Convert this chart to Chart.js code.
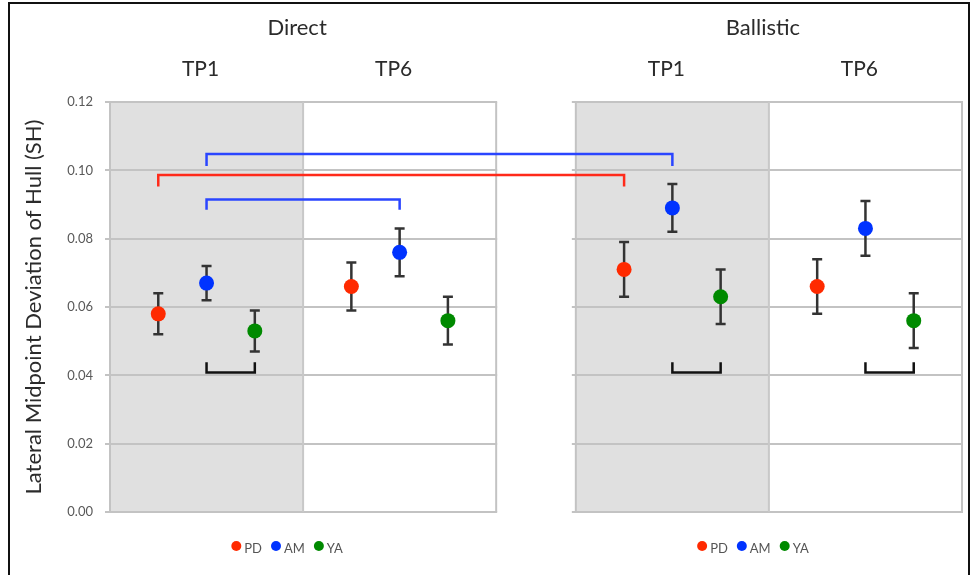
<!DOCTYPE html>
<html>
<head>
<meta charset="utf-8">
<script src="https://cdn.jsdelivr.net/npm/chart.js@4/dist/chart.umd.min.js"></script>
<style>
  html, body { margin: 0; padding: 0; background: #fff; }
  canvas { display: block; }
</style>
</head>
<body>
<canvas id="chart" width="972" height="575"></canvas>
<script>
// Condition / time-point layout
const conditions = ['Direct', 'Ballistic'];
const timepoints = ['TP1', 'TP6'];
const groups = ['PD', 'AM', 'YA'];
const groupColors = ['#ff2a00', '#0033ff', '#008a00'];

// Cell order: Direct TP1, Direct TP6, Ballistic TP1, Ballistic TP6
const pdMean = [0.058, 0.066, 0.071, 0.066];
const pdErr  = [0.006, 0.007, 0.008, 0.008];
const amMean = [0.067, 0.076, 0.089, 0.083];
const amErr  = [0.005, 0.007, 0.007, 0.008];
const yaMean = [0.053, 0.056, 0.063, 0.056];
const yaErr  = [0.006, 0.007, 0.008, 0.008];

const yTicks = [0.00, 0.02, 0.04, 0.06, 0.08, 0.10, 0.12];

// Significance brackets: endpoints are [cell, group]; leg > 0 drops down, leg < 0 rises up
const brackets = [
  { from: [0, 1], to: [2, 1], level: 0.1048, leg: 0.0035, color: '#2a45ff' },
  { from: [0, 0], to: [2, 0], level: 0.0986, leg: 0.0033, color: '#ff2a1a' },
  { from: [0, 1], to: [1, 1], level: 0.0915, leg: 0.0030, color: '#2a45ff' },
  { from: [0, 1], to: [0, 2], level: 0.0408, leg: -0.0030, color: '#111111' },
  { from: [2, 1], to: [2, 2], level: 0.0408, leg: -0.0030, color: '#111111' },
  { from: [3, 1], to: [3, 2], level: 0.0408, leg: -0.0030, color: '#111111' }
];

const means = [pdMean, amMean, yaMean];
const errs = [pdErr, amErr, yaErr];

// x units: each time-point cell spans 4 units, gap between conditions
const CELL = 4;
const GAP = 1.65;
const X_MAX = 4 * CELL + GAP;
function cellStart(cell) {
  const cond = Math.floor(cell / 2), tp = cell % 2;
  return cond * (2 * CELL + GAP) + tp * CELL;
}
function pointX(cell, g) { return cellStart(cell) + g + 1; }

const datasets = groups.map((name, g) => ({
  label: name,
  data: means[g].map((v, cell) => ({ x: pointX(cell, g), y: v, err: errs[g][cell] })),
  backgroundColor: groupColors[g],
  borderColor: groupColors[g],
  pointRadius: 7.5,
  pointHoverRadius: 7.5,
  borderWidth: 0,
  showLine: false
}));

const FONT = '"Lato", "Liberation Sans", sans-serif';

const panelPlugin = {
  id: 'panels',
  beforeDatasetsDraw(chart) {
    const { ctx, scales: { x, y } } = chart;
    const top = y.getPixelForValue(0.12), bottom = y.getPixelForValue(0);
    ctx.save();
    conditions.forEach((c, ci) => {
      const x0 = x.getPixelForValue(cellStart(ci * 2));
      const xm = x.getPixelForValue(cellStart(ci * 2 + 1));
      const x1 = x.getPixelForValue(cellStart(ci * 2 + 1) + CELL);
      // TP1 shading
      ctx.fillStyle = '#e0e0e0';
      ctx.fillRect(x0, top, xm - x0, bottom - top);
      // horizontal grid lines with short outer ticks
      ctx.strokeStyle = '#c3c3c3';
      ctx.lineWidth = 2;
      yTicks.forEach(v => {
        const py = Math.round(y.getPixelForValue(v));
        ctx.beginPath();
        ctx.moveTo(x0 - 4, py);
        ctx.lineTo(x1 + 1, py);
        ctx.stroke();
      });
      // panel sides and TP divider
      ctx.beginPath();
      ctx.moveTo(x0, top); ctx.lineTo(x0, bottom);
      ctx.moveTo(x1, top); ctx.lineTo(x1, bottom);
      ctx.stroke();
      ctx.strokeStyle = '#c8c8c8';
      ctx.beginPath();
      ctx.moveTo(xm, top); ctx.lineTo(xm, bottom);
      ctx.stroke();
    });

    // error bars
    ctx.strokeStyle = '#333333';
    ctx.lineWidth = 2.5;
    chart.data.datasets.forEach(ds => {
      ds.data.forEach(p => {
        const px = x.getPixelForValue(p.x);
        const hi = y.getPixelForValue(p.y + p.err);
        const lo = y.getPixelForValue(p.y - p.err);
        ctx.beginPath();
        ctx.moveTo(px, hi); ctx.lineTo(px, lo);
        ctx.moveTo(px - 5, hi); ctx.lineTo(px + 5, hi);
        ctx.moveTo(px - 5, lo); ctx.lineTo(px + 5, lo);
        ctx.stroke();
      });
    });

    // significance brackets
    ctx.lineWidth = 2.5;
    ctx.lineJoin = 'miter';
    brackets.forEach(b => {
      const xa = x.getPixelForValue(pointX(b.from[0], b.from[1]));
      const xb = x.getPixelForValue(pointX(b.to[0], b.to[1]));
      const yl = y.getPixelForValue(b.level);
      const ye = y.getPixelForValue(b.level - b.leg);
      ctx.strokeStyle = b.color;
      ctx.beginPath();
      ctx.moveTo(xa, ye); ctx.lineTo(xa, yl); ctx.lineTo(xb, yl); ctx.lineTo(xb, ye);
      ctx.stroke();
    });
    ctx.restore();
  },
  afterDraw(chart) {
    const { ctx, scales: { x } } = chart;
    ctx.save();
    ctx.textAlign = 'center';
    ctx.textBaseline = 'middle';
    ctx.fillStyle = '#2b2b2b';
    conditions.forEach((c, ci) => {
      const x0 = x.getPixelForValue(cellStart(ci * 2));
      const x1 = x.getPixelForValue(cellStart(ci * 2 + 1) + CELL);
      ctx.font = '22px ' + FONT;
      ctx.fillText(c, (x0 + x1) / 2 - 6, 28);
      ctx.font = '21px ' + FONT;
      timepoints.forEach((t, ti) => {
        const c0 = x.getPixelForValue(cellStart(ci * 2 + ti));
        const c1 = x.getPixelForValue(cellStart(ci * 2 + ti) + CELL);
        ctx.fillText(t, (c0 + c1) / 2 - 6, 69);
      });

      // legend per panel
      ctx.font = '13px ' + FONT;
      const r = 5, dotGap = 3, itemGap = 9;
      const widths = groups.map(g => 2 * r + dotGap + ctx.measureText(g).width);
      const total = widths.reduce((a, b) => a + b, 0) + itemGap * (groups.length - 1);
      let lx = (x0 + x1) / 2 - 16 - total / 2;
      groups.forEach((g, gi) => {
        ctx.fillStyle = groupColors[gi];
        ctx.beginPath();
        ctx.arc(lx + r, 546, r, 0, Math.PI * 2);
        ctx.fill();
        ctx.fillStyle = '#555555';
        ctx.textAlign = 'left';
        ctx.fillText(g, lx + 2 * r + dotGap, 549);
        lx += widths[gi] + itemGap;
      });
      ctx.textAlign = 'center';
      ctx.fillStyle = '#2b2b2b';
    });

    // outer frame
    ctx.strokeStyle = '#111111';
    ctx.lineWidth = 2;
    ctx.beginPath();
    ctx.moveTo(9, 575); ctx.lineTo(9, 3); ctx.lineTo(969, 3); ctx.lineTo(969, 575);
    ctx.stroke();
    ctx.restore();
  }
};

new Chart(document.getElementById('chart'), {
  type: 'scatter',
  data: { datasets },
  options: {
    responsive: false,
    devicePixelRatio: 1,
    animation: false,
    events: [],
    layout: { padding: { top: 102, bottom: 63, left: 0, right: 10 } },
    plugins: { legend: { display: false }, tooltip: { enabled: false } },
    scales: {
      x: { type: 'linear', display: false, min: 0, max: X_MAX },
      y: {
        type: 'linear',
        min: 0,
        max: 0.12,
        afterBuildTicks: s => { s.ticks = yTicks.map(v => ({ value: v })); },
        afterFit: s => { s.width = 110; },
        border: { display: false },
        grid: { drawOnChartArea: false, drawTicks: true, tickLength: 5, color: '#c3c3c3', lineWidth: 2 },
        ticks: {
          padding: 12,
          color: '#595959',
          font: { family: FONT, size: 13 },
          callback: v => v.toFixed(2)
        },
        title: {
          display: true,
          text: 'Lateral Midpoint Deviation of Hull (SH)',
          color: '#2b2b2b',
          font: { family: FONT, size: 22 },
          padding: { top: 21, bottom: 0 }
        }
      }
    }
  },
  plugins: [panelPlugin]
});
</script>
</body>
</html>
